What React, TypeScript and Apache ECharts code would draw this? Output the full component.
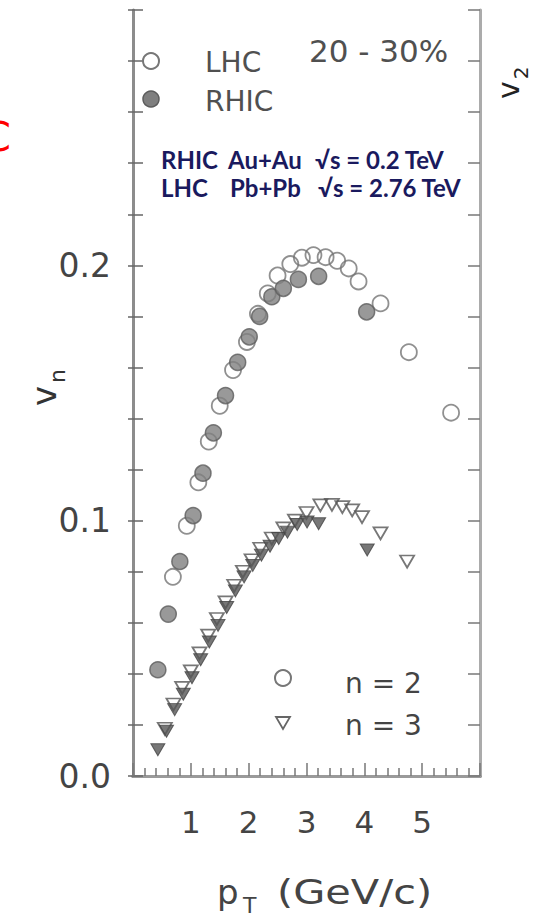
import React, { useEffect, useRef } from "react";
import * as echarts from "echarts";

// LHC Pb+Pb, v2 (open circles)
const lhcV2X = [0.69, 0.93, 1.13, 1.31, 1.5, 1.73, 1.97, 2.16, 2.33, 2.5, 2.72, 2.92, 3.12, 3.33, 3.53, 3.73, 3.9, 4.28, 4.77, 5.5];
const lhcV2Y = [0.078, 0.098, 0.115, 0.131, 0.145, 0.159, 0.17, 0.181, 0.189, 0.196, 0.2005, 0.203, 0.204, 0.2032, 0.2018, 0.1988, 0.1937, 0.1851, 0.166, 0.1423];
// RHIC Au+Au, v2 (filled circles)
const rhicV2X = [0.43, 0.61, 0.81, 1.04, 1.21, 1.39, 1.6, 1.81, 2.01, 2.19, 2.4, 2.6, 2.86, 3.21, 4.04];
const rhicV2Y = [0.0416, 0.0634, 0.084, 0.102, 0.1186, 0.1344, 0.149, 0.162, 0.172, 0.18, 0.1877, 0.191, 0.1945, 0.1957, 0.1818];
// LHC Pb+Pb, v3 (open triangles)
const lhcV3X = [0.55, 0.7, 0.85, 1.0, 1.15, 1.3, 1.45, 1.6, 1.75, 1.9, 2.05, 2.2, 2.4, 2.6, 2.8, 3.0, 3.24, 3.44, 3.62, 3.79, 3.96, 4.28, 4.74];
const lhcV3Y = [0.0185, 0.028, 0.0345, 0.041, 0.048, 0.055, 0.0615, 0.068, 0.0745, 0.08, 0.0845, 0.089, 0.093, 0.097, 0.1, 0.103, 0.106, 0.1062, 0.1053, 0.104, 0.1014, 0.095, 0.084];
// RHIC Au+Au, v3 (filled triangles)
const rhicV3X = [0.43, 0.58, 0.72, 0.87, 1.02, 1.17, 1.32, 1.47, 1.62, 1.77, 1.92, 2.07, 2.22, 2.37, 2.52, 2.67, 2.84, 3.01, 3.21, 4.05];
const rhicV3Y = [0.0103, 0.0175, 0.026, 0.032, 0.0385, 0.0455, 0.0525, 0.059, 0.066, 0.0725, 0.078, 0.0825, 0.0865, 0.09, 0.093, 0.0955, 0.0985, 0.0995, 0.0988, 0.0885];

const xTickLabels = ["1", "2", "3", "4", "5"];
const yTickLabels = ["0.0", "0.1", "0.2"];

const FONT = "DejaVu Sans";
const GRAY_TEXT = "#444";

function pairs(xs: number[], ys: number[]) {
  return xs.map((x, i) => [x, ys[i]]);
}

export default function App() {
  const ref = useRef<HTMLDivElement>(null);
  useEffect(() => {
    document.body.style.margin = "0";
    const chart = echarts.init(ref.current!, null, { renderer: "svg" });
    const yBase = { type: "value", min: 0, max: 0.3, interval: 0.1, splitLine: { show: false } };
    const option: any = {
      animation: false,
      backgroundColor: "#fff",
      grid: { left: 133, right: 53, top: 10, bottom: 141, containLabel: false },
      xAxis: [
        {
          type: "value", min: 0, max: 6, interval: 1, position: "bottom",
          axisLine: { lineStyle: { color: "#6e6e6e", width: 3 } },
          axisTick: { inside: true, length: 13, lineStyle: { color: "#777", width: 1.5 } },
          minorTick: { show: true, splitNumber: 5, length: 8, lineStyle: { color: "#777", width: 1.5 } },
          axisLabel: {
            fontFamily: FONT, fontSize: 31, color: GRAY_TEXT, margin: 30,
            formatter: (v: number) => { const s = String(Math.round(v)); return xTickLabels.includes(s) ? s : ""; },
          },
          splitLine: { show: false },
        },
        {
          type: "value", min: 0, max: 6, position: "top",
          axisLine: { lineStyle: { color: "#9a9a9a", width: 3 } },
          axisTick: { show: false }, axisLabel: { show: false }, splitLine: { show: false },
        },
      ],
      yAxis: [
        {
          ...yBase, position: "left",
          axisLine: { lineStyle: { color: "#8c8c8c", width: 3 } },
          axisTick: { inside: true, length: 10, lineStyle: { color: "#666", width: 1.5 } },
          minorTick: { show: true, splitNumber: 5, length: 10, lineStyle: { color: "#666", width: 1.5 } },
          axisLabel: {
            fontFamily: FONT, fontSize: 33, color: GRAY_TEXT, margin: 22,
            formatter: (v: number) => { const s = v.toFixed(1); return yTickLabels.includes(s) ? s : ""; },
          },
        },
        {
          ...yBase, position: "left",
          axisLine: { show: false },
          axisTick: { inside: false, length: 5, lineStyle: { color: "#666", width: 1.5 } },
          minorTick: { show: true, splitNumber: 5, length: 5, lineStyle: { color: "#666", width: 1.5 } },
          axisLabel: { show: false },
        },
        {
          ...yBase, position: "right",
          axisLine: { lineStyle: { color: "#ababab", width: 3 } },
          axisTick: { inside: true, length: 12, lineStyle: { color: "#777", width: 1.5 } },
          minorTick: { show: true, splitNumber: 5, length: 12, lineStyle: { color: "#777", width: 1.5 } },
          axisLabel: { show: false },
        },
      ],
      series: [
        {
          name: "LHC n=2", type: "scatter", data: pairs(lhcV2X, lhcV2Y), symbol: "circle", symbolSize: 16, z: 2,
          itemStyle: { color: "rgba(255,255,255,0)", borderColor: "#747474", borderWidth: 1.8 },
        },
        {
          name: "RHIC n=2", type: "scatter", data: pairs(rhicV2X, rhicV2Y), symbol: "circle", symbolSize: 16, z: 3,
          itemStyle: { color: "#7f7f7f", borderColor: "#5c5c5c", borderWidth: 1.5 },
        },
        {
          name: "LHC n=3", type: "scatter", data: pairs(lhcV3X, lhcV3Y), symbol: "triangle", symbolRotate: 180, symbolSize: [14, 12], z: 2,
          itemStyle: { color: "rgba(255,255,255,0)", borderColor: "#555", borderWidth: 1.8 },
        },
        {
          name: "RHIC n=3", type: "scatter", data: pairs(rhicV3X, rhicV3Y), symbol: "triangle", symbolRotate: 180, symbolSize: [14, 12], z: 3,
          itemStyle: { color: "#555", borderColor: "#444", borderWidth: 1 },
        },
      ],
      graphic: [
        // legend, top-left
        { type: "circle", shape: { cx: 151, cy: 61, r: 8 }, style: { fill: "none", stroke: "#777", lineWidth: 2 }, z: 10 },
        { type: "circle", shape: { cx: 151, cy: 99, r: 8 }, style: { fill: "#7f7f7f", stroke: "#5c5c5c", lineWidth: 1.5 }, z: 10 },
        { type: "text", x: 205, y: 62, style: { text: "LHC", fill: "#505050", fontFamily: FONT, fontSize: 28, textVerticalAlign: "middle" }, z: 10 },
        { type: "text", x: 205, y: 101, style: { text: "RHIC", fill: "#505050", fontFamily: FONT, fontSize: 28, textVerticalAlign: "middle" }, z: 10 },
        { type: "text", x: 309, y: 51, style: { text: "20 - 30%", fill: "#505050", fontFamily: FONT, fontSize: 31, textVerticalAlign: "middle" }, z: 10 },
        // collision systems
        { type: "text", x: 161, y: 159, style: { text: "RHIC", fill: "#1a1a5e", fontFamily: "Lato", fontWeight: "bold", fontSize: 24, textVerticalAlign: "middle" }, z: 10 },
        { type: "text", x: 228, y: 159, style: { text: "Au+Au", fill: "#1a1a5e", fontFamily: "Lato", fontWeight: "bold", fontSize: 24, textVerticalAlign: "middle" }, z: 10 },
        { type: "text", x: 315, y: 159, style: { text: "√s = 0.2 TeV", fill: "#1a1a5e", fontFamily: "Lato", fontWeight: "bold", fontSize: 24, textVerticalAlign: "middle" }, z: 10 },
        { type: "text", x: 161, y: 187, style: { text: "LHC", fill: "#1a1a5e", fontFamily: "Lato", fontWeight: "bold", fontSize: 24, textVerticalAlign: "middle" }, z: 10 },
        { type: "text", x: 230, y: 187, style: { text: "Pb+Pb", fill: "#1a1a5e", fontFamily: "Lato", fontWeight: "bold", fontSize: 24, textVerticalAlign: "middle" }, z: 10 },
        { type: "text", x: 318, y: 187, style: { text: "√s = 2.76 TeV", fill: "#1a1a5e", fontFamily: "Lato", fontWeight: "bold", fontSize: 24, textVerticalAlign: "middle" }, z: 10 },
        // legend, bottom-right
        { type: "circle", shape: { cx: 283, cy: 678, r: 8 }, style: { fill: "none", stroke: "#777", lineWidth: 2 }, z: 10 },
        { type: "polygon", shape: { points: [[276, 717], [290, 717], [283, 729]] }, style: { fill: "none", stroke: "#666", lineWidth: 1.8 }, z: 10 },
        { type: "text", x: 345, y: 683, style: { text: "n = 2", fill: GRAY_TEXT, fontFamily: FONT, fontSize: 28, textVerticalAlign: "middle" }, z: 10 },
        { type: "text", x: 345, y: 725, style: { text: "n = 3", fill: GRAY_TEXT, fontFamily: FONT, fontSize: 28, textVerticalAlign: "middle" }, z: 10 },
        // axis titles
        { type: "text", x: 44, y: 396, rotation: Math.PI / 2, style: { text: "v", fill: "#333", fontFamily: FONT, fontSize: 34, textAlign: "center", textVerticalAlign: "middle" }, z: 10 },
        { type: "text", x: 57, y: 376, rotation: Math.PI / 2, style: { text: "n", fill: "#333", fontFamily: FONT, fontSize: 22, textAlign: "center", textVerticalAlign: "middle" }, z: 10 },
        { type: "text", x: 217, y: 892, style: { text: "p", fill: GRAY_TEXT, fontFamily: FONT, fontSize: 34, textVerticalAlign: "middle" }, z: 10 },
        { type: "text", x: 243, y: 905, style: { text: "T", fill: GRAY_TEXT, fontFamily: FONT, fontSize: 22, textVerticalAlign: "middle" }, z: 10 },
        { type: "text", x: 277, y: 892, scaleX: 1.22, style: { text: "(GeV/c)", fill: GRAY_TEXT, fontFamily: FONT, fontSize: 34, textVerticalAlign: "middle" }, z: 10 },
        // neighbouring-panel fragments
        { type: "text", x: -17, y: 137, style: { text: "C", fill: "#ff0000", fontFamily: FONT, fontSize: 40, textVerticalAlign: "middle" }, z: 10 },
        { type: "text", x: 508, y: 90, rotation: Math.PI / 2, style: { text: "v", fill: "#222", fontFamily: FONT, fontSize: 30, textAlign: "center", textVerticalAlign: "middle" }, z: 10 },
        { type: "text", x: 521, y: 73, rotation: Math.PI / 2, style: { text: "2", fill: "#222", fontFamily: FONT, fontSize: 20, textAlign: "center", textVerticalAlign: "middle" }, z: 10 },
      ],
    };
    chart.setOption(option);
    return () => chart.dispose();
  }, []);
  return <div ref={ref} style={{ width: 533, height: 917 }} />;
}
